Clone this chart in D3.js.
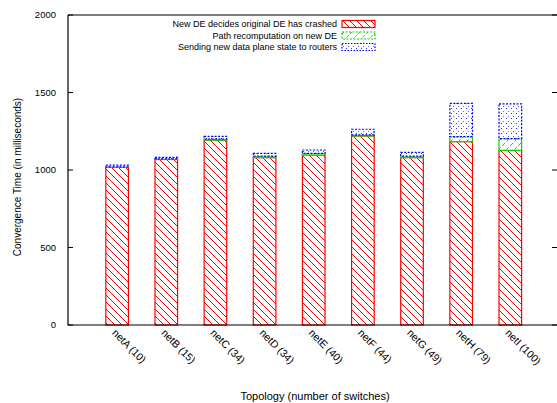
<!DOCTYPE html>
<html>
<head>
<meta charset="utf-8">
<script src="https://cdn.jsdelivr.net/npm/d3@7"></script>
<style>
  html, body { margin: 0; padding: 0; background: #fff; }
  svg { display: block; font-family: "Liberation Sans", Arial, Helvetica, sans-serif; }
</style>
</head>
<body>
<svg id="chart" width="557" height="403"></svg>
<script>
// Convergence time per topology, split into three phases (milliseconds)
const categories = ["netA (10)", "netB (15)", "netC (34)", "netD (34)", "netE (40)",
                    "netF (44)", "netG (49)", "netH (79)", "netI (100)"];
const crashDetect = [1017, 1068, 1193, 1080, 1097, 1220, 1080, 1183, 1127];
const pathRecompute = [3, 4, 7, 10, 10, 7, 10, 32, 75];
const sendState = [12, 10, 17, 17, 22, 36, 24, 215, 224];
const seriesNames = ["New DE decides original DE has crashed",
                     "Path recomputation on new DE",
                     "Sending new data plane state to routers"];
const yTicks = [0, 500, 1000, 1500, 2000];

const svg = d3.select("#chart");
const plotL = 68, plotR = 557, plotT = 15, plotB = 325;

const x = d3.scaleLinear().domain([-1, 8.95]).range([plotL, plotR]);
const y = d3.scaleLinear().domain([0, 2000]).range([plotB, plotT]);
const barW = x(0.46) - x(0);

// Fill patterns for the three phases
const defs = svg.append("defs");
const pRed = defs.append("pattern").attr("id", "pat-red")
  .attr("patternUnits", "userSpaceOnUse").attr("width", 7).attr("height", 7);
pRed.append("rect").attr("width", 7).attr("height", 7).attr("fill", "#fff");
pRed.append("path").attr("d", "M-1,-1 L8,8 M-1,6 L1,8 M6,-1 L8,1")
  .attr("stroke", "#ff0000").attr("stroke-width", 1);

const pGreen = defs.append("pattern").attr("id", "pat-green")
  .attr("patternUnits", "userSpaceOnUse").attr("width", 8).attr("height", 8);
pGreen.append("rect").attr("width", 8).attr("height", 8).attr("fill", "#fff");
pGreen.append("path").attr("d", "M-1,9 L9,-1 M-1,1 L1,-1 M7,9 L9,7")
  .attr("stroke", "#00dd00").attr("stroke-width", 1).attr("stroke-dasharray", "3,2");

const pBlue = defs.append("pattern").attr("id", "pat-blue")
  .attr("patternUnits", "userSpaceOnUse").attr("width", 5).attr("height", 5);
pBlue.append("rect").attr("width", 5).attr("height", 5).attr("fill", "#fff");
pBlue.append("rect").attr("x", 1).attr("y", 3).attr("width", 1).attr("height", 1).attr("fill", "#3333ff");
pBlue.append("rect").attr("x", 3).attr("y", 1).attr("width", 1).attr("height", 1).attr("fill", "#6666ff");

const styles = [
  { fill: "url(#pat-red)", stroke: "#ff0000", dash: null },
  { fill: "url(#pat-green)", stroke: "#00dd00", dash: null },
  { fill: "url(#pat-blue)", stroke: "#0000ff", dash: "2,1.5" }
];
const legendDash = [null, "2,1.5", "1.5,1.5"];

// Stacked bars
const rows = categories.map((c, i) => ({ i, a: crashDetect[i], b: pathRecompute[i], c: sendState[i] }));
const stacked = d3.stack().keys(["a", "b", "c"])(rows);

stacked.forEach((layer, k) => {
  svg.append("g").selectAll("rect").data(layer).join("rect")
    .attr("x", d => x(d.data.i) - barW / 2)
    .attr("y", d => y(d[1]))
    .attr("width", barW)
    .attr("height", d => y(d[0]) - y(d[1]))
    .attr("fill", styles[k].fill)
    .attr("stroke", styles[k].stroke)
    .attr("stroke-width", 1.2)
    .attr("stroke-dasharray", styles[k].dash);
});

// Frame
svg.append("path")
  .attr("d", `M${plotL},${plotT} H${plotR} M${plotL},${plotT} V${plotB} H${plotR}`)
  .attr("fill", "none").attr("stroke", "#000").attr("stroke-width", 1.2);

// Y axis ticks (inward on both sides) and labels
const yAxis = svg.append("g");
yAxis.selectAll("line.l").data(yTicks).join("line")
  .attr("x1", plotL).attr("x2", plotL + 5)
  .attr("y1", d => y(d)).attr("y2", d => y(d))
  .attr("stroke", "#000");
yAxis.selectAll("line.r").data(yTicks).join("line")
  .attr("x1", plotR - 5).attr("x2", plotR)
  .attr("y1", d => y(d)).attr("y2", d => y(d))
  .attr("stroke", "#000");
yAxis.selectAll("text").data(yTicks).join("text")
  .attr("x", plotL - 12).attr("y", d => y(d)).attr("dy", "0.35em")
  .attr("text-anchor", "end").attr("font-size", 9.5).attr("fill", "#000")
  .text(d => d);

// X category labels, rotated
svg.append("g").selectAll("text").data(categories).join("text")
  .attr("transform", (d, i) => `translate(${x(i) - 3},${plotB + 6}) rotate(45)`)
  .attr("text-anchor", "start").attr("font-size", 10.5).attr("dy", "0.35em")
  .text(d => d);

// Axis titles
svg.append("text")
  .attr("transform", `translate(21,177) rotate(-90)`)
  .attr("text-anchor", "middle").attr("font-size", 10)
  .text("Convergence Time (in milliseconds)");
svg.append("text")
  .attr("x", 315).attr("y", 400)
  .attr("text-anchor", "middle").attr("font-size", 11)
  .text("Topology (number of switches)");

// Legend
const legend = svg.append("g");
seriesNames.forEach((name, k) => {
  const cy = 24 + k * 11.5;
  legend.append("text").attr("x", 337).attr("y", cy).attr("dy", "0.35em")
    .attr("text-anchor", "end").attr("font-size", 9).text(name);
  legend.append("rect").attr("x", 342).attr("y", cy - 3.5)
    .attr("width", 33).attr("height", 7)
    .attr("fill", styles[k].fill).attr("stroke", styles[k].stroke)
    .attr("stroke-width", 1.2).attr("stroke-dasharray", legendDash[k]);
});
</script>
</body>
</html>
